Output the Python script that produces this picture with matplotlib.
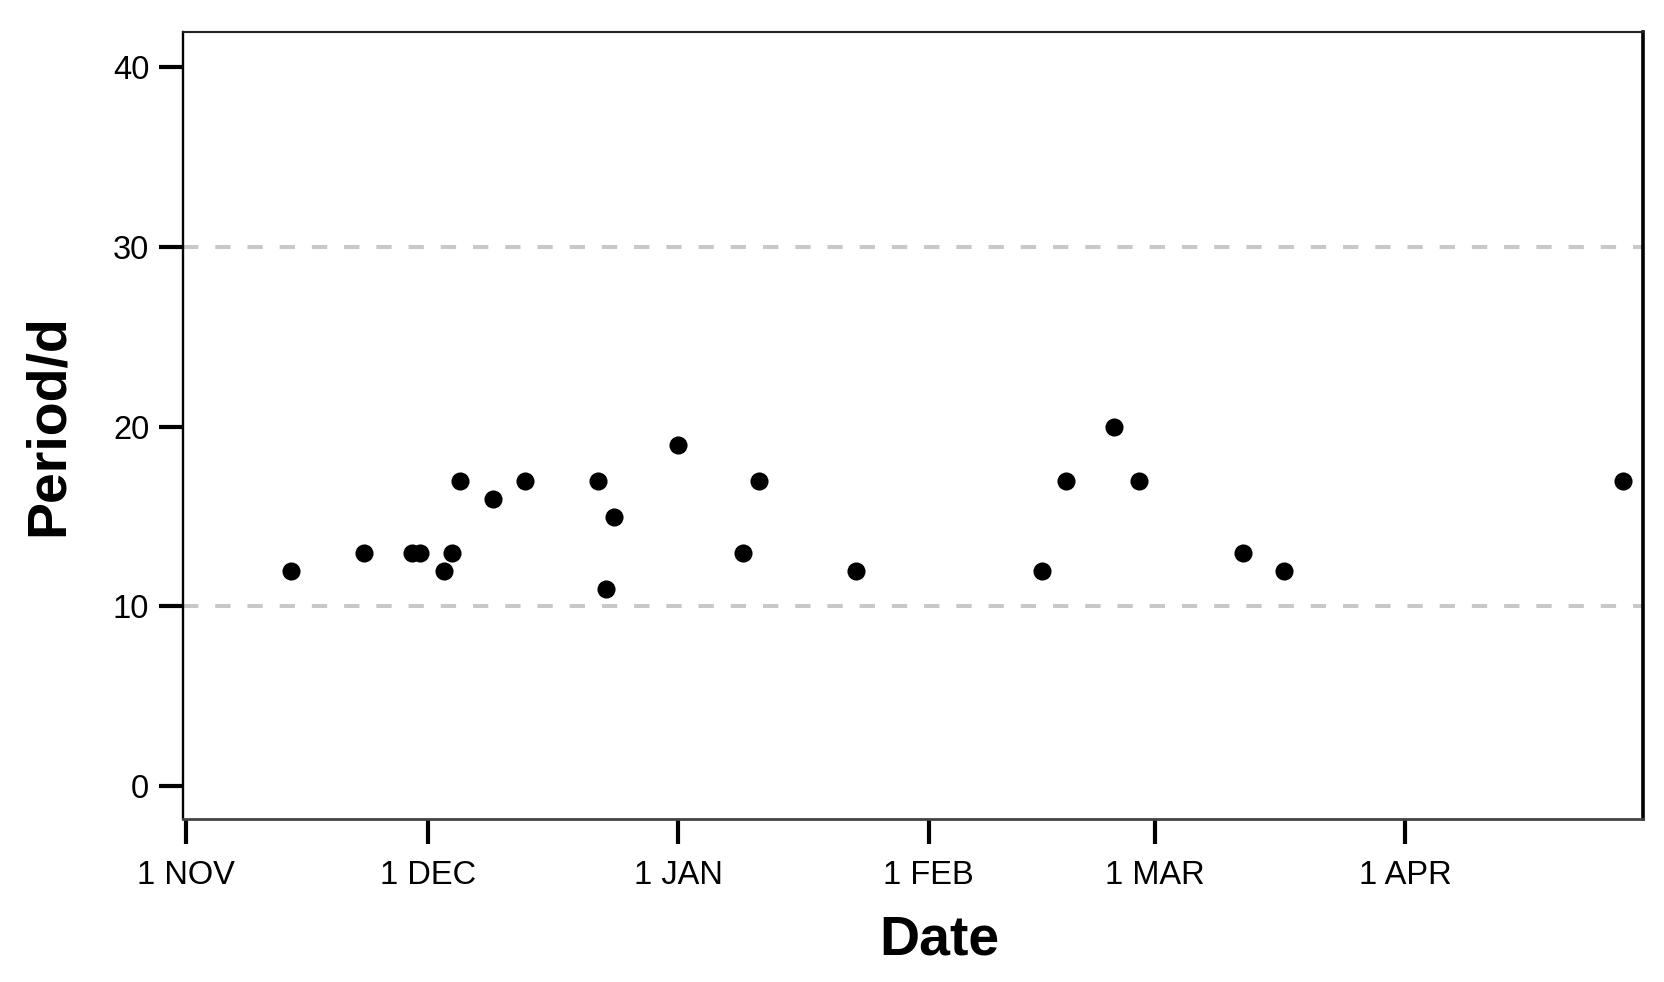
import matplotlib
matplotlib.use('Agg')
import matplotlib.pyplot as plt
import pandas as pd

plt.rcParams['font.family'] = ['Liberation Sans', 'DejaVu Sans']

# observation dates and period (days)
obs_dates = ['2014-11-14', '2014-11-23', '2014-11-29', '2014-11-30', '2014-12-03',
             '2014-12-04', '2014-12-05', '2014-12-09', '2014-12-13', '2014-12-22',
             '2014-12-23', '2014-12-24', '2015-01-01', '2015-01-09', '2015-01-11',
             '2015-01-23', '2015-02-15', '2015-02-18', '2015-02-24', '2015-02-27',
             '2015-03-12', '2015-03-17', '2015-04-28']
periods = [12, 13, 13, 13, 12, 13, 17, 16, 17, 17, 11, 15, 19, 13, 17, 12,
           12, 17, 20, 17, 13, 12, 17]

tick_dates = ['2014-11-01', '2014-12-01', '2015-01-01', '2015-02-01', '2015-03-01', '2015-04-01']
tick_labels = ['1 NOV', '1 DEC', '1 JAN', '1 FEB', '1 MAR', '1 APR']
y_ticks = [0, 10, 20, 30, 40]
grid_levels = [10, 30]

x = pd.to_datetime(obs_dates)

fig = plt.figure(figsize=(16.65, 9.82), dpi=100)
ax = fig.add_axes([0.1097, 0.1663, 0.877, 0.8012])

# dashed reference lines
for g in grid_levels:
    ax.axhline(g, color='#c8c8c8', lw=2.9, ls=(0, (3.8, 4.2)), zorder=1)

ax.scatter(x, periods, s=170, color='black', zorder=3, linewidths=0)

start = pd.Timestamp('2014-11-01')
ax.set_xlim(start - pd.Timedelta(days=0.42), start + pd.Timedelta(days=180.48))
ax.set_ylim(-1.8, 41.95)

ax.set_xticks(pd.to_datetime(tick_dates))
ax.set_xticklabels(tick_labels)
ax.set_yticks(y_ticks)
ax.set_yticklabels([str(v) for v in y_ticks])

ax.tick_params(axis='x', direction='out', length=18, width=3, pad=12, labelsize=23.5, colors='black')
ax.tick_params(axis='y', direction='out', length=17, width=3, pad=7, labelsize=23.5, colors='black')

ax.spines['left'].set_linewidth(1.7)
ax.spines['left'].set_color('black')
ax.spines['top'].set_linewidth(1.5)
ax.spines['top'].set_color('#222222')
ax.spines['bottom'].set_linewidth(2.0)
ax.spines['bottom'].set_color('#444444')
ax.spines['right'].set_linewidth(2.6)
ax.spines['right'].set_color('black')

ax.set_xlabel('Date', fontsize=40, fontweight='bold', va='top')
ax.xaxis.set_label_coords(0.518, -0.122)
ax.set_ylabel('Period/d', fontsize=40, fontweight='bold')
ax.yaxis.set_label_coords(-0.074, 0.5)

fig.savefig('out.png', dpi=100)
